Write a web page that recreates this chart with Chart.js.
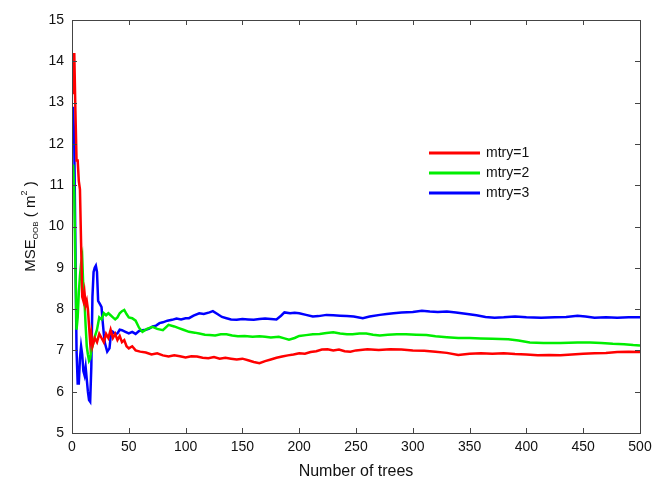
<!DOCTYPE html>
<html lang="en">
<head>
    <meta charset="UTF-8">
    <title>MSE OOB vs number of trees</title>
    <script src="https://cdn.jsdelivr.net/npm/chart.js"></script>
    <style>
        html, body { margin: 0; padding: 0; background: #fff; }
        .chart-container { width: 652px; height: 481px; }
    </style>
</head>
<body>
    <div class="chart-container">
        <canvas id="mseChart"></canvas>
    </div>

    <script>
        // values (tree count, MSE)
        const seriesNames = ['mtry=1', 'mtry=2', 'mtry=3'];
        const seriesColors = ['#ff0000', '#00ee00', '#0000ff'];

        const treesRed = [1, 2, 3, 4, 5, 6, 7, 8, 9, 10, 11, 12, 13, 14, 15, 16, 17, 18, 19, 20, 22, 24, 26, 28, 30, 32, 34, 36, 38, 40, 42, 44, 46, 48, 50, 53, 56, 60, 65, 70, 75, 80, 85, 90, 95, 100, 105, 110, 115, 120, 125, 130, 135, 140, 145, 150, 155, 160, 165, 170, 175, 180, 185, 190, 195, 200, 205, 210, 215, 220, 225, 230, 235, 240, 245, 250, 260, 270, 280, 290, 300, 310, 320, 330, 340, 350, 360, 370, 380, 390, 400, 410, 420, 430, 440, 450, 460, 470, 480, 490, 500];
        const mseRed = [13.2, 14.2, 12.8, 11.6, 11.6, 11.1, 10.9, 9.6, 8.3, 8.2, 8.4, 8.1, 8.2, 8.0, 7.6, 7.2, 7.4, 7.1, 7.2, 7.3, 7.2, 7.4, 7.3, 7.2, 7.4, 7.3, 7.5, 7.3, 7.4, 7.25, 7.35, 7.2, 7.25, 7.1, 7.05, 7.1, 7.0, 6.97, 6.95, 6.9, 6.93, 6.88, 6.85, 6.88, 6.86, 6.83, 6.86, 6.85, 6.82, 6.81, 6.84, 6.8, 6.82, 6.8, 6.78, 6.8, 6.76, 6.72, 6.69, 6.74, 6.78, 6.82, 6.85, 6.88, 6.9, 6.93, 6.92, 6.96, 6.98, 7.02, 7.03, 7.0, 7.02, 6.98, 6.97, 7.0, 7.03, 7.01, 7.03, 7.02, 7.0, 6.99, 6.97, 6.94, 6.89, 6.92, 6.93, 6.92, 6.93, 6.91, 6.9, 6.88, 6.89, 6.88, 6.9, 6.92, 6.93, 6.94, 6.96, 6.97, 6.96];

        const treesGreen = [1, 2, 3, 4, 5, 6, 7, 8, 9, 10, 11, 12, 13, 14, 15, 16, 17, 18, 19, 20, 22, 24, 26, 28, 30, 32, 34, 36, 38, 40, 42, 44, 46, 48, 50, 53, 56, 59, 62, 66, 71, 75, 80, 85, 90, 94, 98, 103, 108, 112, 117, 121, 126, 131, 136, 141, 146, 152, 159, 165, 170, 175, 182, 187, 191, 196, 200, 206, 212, 218, 224, 230, 236, 242, 247, 253, 259, 265, 271, 278, 286, 294, 303, 312, 320, 330, 340, 350, 360, 370, 384, 393, 403, 415, 430, 445, 456, 466, 476, 486, 494, 500];
        const mseGreen = [11.5, 10.8, 9.0, 7.5, 7.8, 8.4, 8.8, 9.1, 9.25, 8.5, 8.2, 7.6, 7.1, 6.9, 6.75, 6.8, 7.0, 7.1, 7.2, 7.33, 7.5, 7.8, 7.75, 7.9, 7.85, 7.9, 7.85, 7.8, 7.75, 7.8, 7.9, 7.95, 7.98, 7.88, 7.8, 7.78, 7.72, 7.55, 7.45, 7.52, 7.57, 7.52, 7.49, 7.62, 7.58, 7.54, 7.5, 7.45, 7.43, 7.41, 7.38, 7.37, 7.36, 7.39, 7.39, 7.36, 7.34, 7.35, 7.33, 7.34, 7.33, 7.31, 7.33, 7.29, 7.26, 7.3, 7.35, 7.37, 7.39, 7.4, 7.42, 7.44, 7.41, 7.39, 7.39, 7.41, 7.41, 7.38, 7.36, 7.38, 7.39, 7.39, 7.38, 7.37, 7.34, 7.32, 7.3, 7.3, 7.29, 7.28, 7.27, 7.24, 7.19, 7.18, 7.18, 7.19, 7.19, 7.18, 7.16, 7.15, 7.13, 7.12];

        const treesBlue = [1, 2, 3, 4, 5, 6, 7, 8, 9, 10, 11, 12, 13, 14, 15, 16, 17, 18, 19, 20, 21, 22, 23, 25, 26, 27, 28, 29, 31, 33, 34, 36, 38, 40, 42, 44, 47, 50, 53, 56, 59, 62, 65, 68, 71, 74, 77, 80, 84, 88, 92, 96, 100, 103, 107, 112, 116, 121, 124, 128, 132, 136, 140, 145, 150, 155, 160, 165, 170, 175, 180, 184, 187, 192, 196, 200, 206, 212, 217, 224, 230, 236, 242, 248, 256, 262, 271, 277, 283, 290, 300, 308, 315, 322, 330, 338, 348, 356, 364, 372, 380, 390, 400, 413, 425, 435, 445, 452, 460, 470, 480, 490, 500];
        const mseBlue = [12.9, 12.0, 9.5, 7.0, 6.2, 6.2, 6.8, 7.1, 6.9, 6.5, 6.4, 6.6, 6.3, 6.0, 5.8, 5.76, 6.6, 8.3, 8.9, 9.0, 9.05, 8.9, 8.2, 8.1, 8.05, 7.7, 7.4, 7.17, 6.97, 7.05, 7.33, 7.45, 7.4, 7.41, 7.5, 7.49, 7.45, 7.41, 7.45, 7.4, 7.47, 7.49, 7.5, 7.53, 7.58, 7.6, 7.66, 7.68, 7.72, 7.74, 7.77, 7.75, 7.78, 7.78, 7.84, 7.9, 7.88, 7.92, 7.95, 7.88, 7.81, 7.78, 7.75, 7.74, 7.76, 7.75, 7.74, 7.76, 7.77, 7.76, 7.75, 7.84, 7.92, 7.9, 7.91, 7.9, 7.86, 7.82, 7.83, 7.86, 7.85, 7.84, 7.83, 7.82, 7.78, 7.82, 7.86, 7.88, 7.9, 7.92, 7.93, 7.96, 7.94, 7.93, 7.94, 7.92, 7.88, 7.85, 7.81, 7.79, 7.8, 7.82, 7.8, 7.79, 7.8, 7.81, 7.84, 7.82, 7.79, 7.8, 7.79, 7.8, 7.8];

        const xTicks = [0, 50, 100, 150, 200, 250, 300, 350, 400, 450, 500];
        const yTicks = [5, 6, 7, 8, 9, 10, 11, 12, 13, 14, 15];

        const toPoints = (xs, ys) => xs.map((x, i) => ({ x: x, y: ys[i] }));
        const allTrees = [treesRed, treesGreen, treesBlue];
        const allMse = [mseRed, mseGreen, mseBlue];

        const FONT = '"Liberation Sans", Arial, sans-serif';

        // box round the plot, ticks pointing inwards on all four sides
        const frameTicks = {
            id: 'frameTicks',
            afterDatasetsDraw(chart) {
                const { ctx, chartArea: a, scales: { x, y } } = chart;
                ctx.save();
                ctx.strokeStyle = '#444';
                ctx.lineWidth = 1;
                ctx.strokeRect(a.left + 0.5, a.top + 0.5, a.width, a.height);
                ctx.beginPath();
                xTicks.forEach(v => {
                    const px = Math.round(x.getPixelForValue(v)) + 0.5;
                    ctx.moveTo(px, a.bottom); ctx.lineTo(px, a.bottom - 5);
                    ctx.moveTo(px, a.top); ctx.lineTo(px, a.top + 5);
                });
                yTicks.forEach(v => {
                    const py = Math.round(y.getPixelForValue(v)) + 0.5;
                    ctx.moveTo(a.left, py); ctx.lineTo(a.left + 5, py);
                    ctx.moveTo(a.right, py); ctx.lineTo(a.right - 5, py);
                });
                ctx.stroke();
                ctx.restore();
            }
        };

        // legend inside the plot + y title with sub/superscript
        const extras = {
            id: 'extras',
            afterDraw(chart) {
                const { ctx, chartArea: a } = chart;
                ctx.save();
                ctx.font = '14px ' + FONT;
                ctx.textBaseline = 'middle';
                chart.data.datasets.forEach((ds, i) => {
                    const yy = 153 + i * 20;
                    ctx.strokeStyle = ds.borderColor;
                    ctx.lineWidth = 3;
                    ctx.beginPath();
                    ctx.moveTo(429, yy); ctx.lineTo(480, yy);
                    ctx.stroke();
                    ctx.fillStyle = '#111';
                    ctx.fillText(ds.label, 486, yy);
                });

                // MSE_OOB ( m^2 )
                ctx.translate(30, (a.top + a.bottom) / 2);
                ctx.rotate(-Math.PI / 2);
                ctx.fillStyle = '#111';
                ctx.textBaseline = 'alphabetic';
                const parts = [
                    { t: 'MSE', size: 15, dy: 0 },
                    { t: 'OOB', size: 8, dy: 3 },
                    { t: ' ( m', size: 15, dy: 0 },
                    { t: '2', size: 9, dy: -8 },
                    { t: ' )', size: 15, dy: 0 }
                ];
                let total = 0;
                parts.forEach(p => { ctx.font = p.size + 'px ' + FONT; p.w = ctx.measureText(p.t).width; total += p.w; });
                let cx = -total / 2;
                parts.forEach(p => {
                    ctx.font = p.size + 'px ' + FONT;
                    ctx.fillText(p.t, cx, 5 + p.dy);
                    cx += p.w;
                });
                ctx.restore();
            }
        };

        new Chart(document.getElementById('mseChart'), {
            type: 'line',
            data: {
                datasets: seriesNames.map((name, i) => ({
                    label: name,
                    data: toPoints(allTrees[i], allMse[i]),
                    borderColor: seriesColors[i],
                    borderWidth: 2.5,
                    pointRadius: 0,
                    tension: 0,
                    fill: false
                }))
            },
            options: {
                responsive: true,
                maintainAspectRatio: false,
                animation: false,
                layout: { padding: { left: 0, right: 12, top: 20, bottom: 0 } },
                plugins: {
                    legend: { display: false },
                    tooltip: { enabled: false }
                },
                scales: {
                    x: {
                        type: 'linear',
                        min: 0,
                        max: 500,
                        afterFit: s => { s.height = 48; s.paddingLeft = 0; s.paddingRight = 0; },
                        afterBuildTicks: s => { s.ticks = xTicks.map(v => ({ value: v })); },
                        grid: { display: false, drawTicks: false },
                        border: { display: false },
                        ticks: { color: '#111', font: { family: FONT, size: 14 }, padding: 6, maxRotation: 0 },
                        title: { display: true, text: 'Number of trees', color: '#111', font: { family: FONT, size: 16 }, padding: { top: 2, bottom: 0 } }
                    },
                    y: {
                        min: 5,
                        max: 15,
                        afterFit: s => { s.width = 72; s.paddingTop = 0; s.paddingBottom = 0; },
                        afterBuildTicks: s => { s.ticks = yTicks.map(v => ({ value: v })); },
                        grid: { display: false, drawTicks: false },
                        border: { display: false },
                        ticks: { color: '#111', font: { family: FONT, size: 14 }, padding: 8 }
                    }
                }
            },
            plugins: [frameTicks, extras]
        });
    </script>
</body>
</html>
